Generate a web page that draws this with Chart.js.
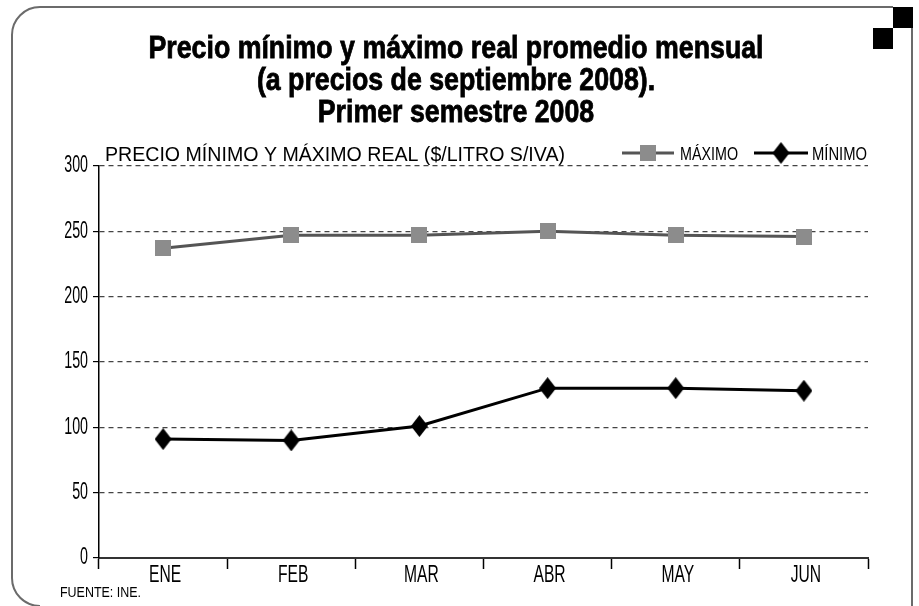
<!DOCTYPE html>
<html>
<head>
<meta charset="utf-8">
<script src="https://cdn.jsdelivr.net/npm/chart.js@4"></script>
<style>
  html, body { margin: 0; padding: 0; background: #fff; }
  #wrap { width: 919px; height: 606px; position: relative; }
</style>
</head>
<body>
<div id="wrap"><canvas id="chart" width="919" height="606"></canvas></div>
<script>
const months = ['ENE', 'FEB', 'MAR', 'ABR', 'MAY', 'JUN'];
const maximo = [237, 247, 247, 250, 247, 246];
const minimo = [91, 90, 101, 130, 130, 128];
const yTicks = [0, 50, 100, 150, 200, 250, 300];
const titleLines = ['Precio mínimo y máximo real promedio mensual', '(a precios de septiembre 2008).', 'Primer semestre 2008'];
const unitLabel = 'PRECIO MÍNIMO Y MÁXIMO REAL ($/LITRO S/IVA)';
const sourceLabel = 'FUENTE: INE.';

const FONT = "'Liberation Sans', Arial, sans-serif";

// draw text squeezed horizontally (the original uses a condensed face)
function narrowText(ctx, text, x, y, size, opts) {
    opts = opts || {};
    ctx.save();
    ctx.font = (opts.bold ? 'bold ' : '') + size + 'px ' + FONT;
    ctx.textBaseline = opts.baseline || 'alphabetic';
    ctx.fillStyle = opts.color || '#000';
    let sx = opts.sx || 0.7;
    if (opts.width) sx = opts.width / ctx.measureText(text).width;
    const w = ctx.measureText(text).width * sx;
    let left = x;
    if (opts.align === 'center') left = x - w / 2;
    if (opts.align === 'right') left = x - w;
    ctx.translate(left, y);
    ctx.scale(sx, 1);
    ctx.fillText(text, 0, 0);
    if (opts.heavy) {
        ctx.lineWidth = 0.8;
        ctx.strokeStyle = ctx.fillStyle;
        ctx.strokeText(text, 0, 0);
    }
    ctx.restore();
}

function makeMarker(w, h, color, shape) {
    const c = document.createElement('canvas');
    c.width = w; c.height = h;
    const g = c.getContext('2d');
    g.fillStyle = color;
    if (shape === 'diamond') {
        g.beginPath();
        g.moveTo(w / 2, 0);
        g.lineTo(w, h / 2);
        g.lineTo(w / 2, h);
        g.lineTo(0, h / 2);
        g.closePath();
        g.fill();
    } else {
        g.fillRect(0, 0, w, h);
    }
    return c;
}
const squareMark = makeMarker(16, 16, '#8c8c8c', 'square');
const diamondMark = makeMarker(17, 22, '#000', 'diamond');

const framePlugin = {
    id: 'frame',
    beforeDraw(chart) {
        const ctx = chart.ctx;
        ctx.save();
        ctx.strokeStyle = '#6b6b6b';
        ctx.lineWidth = 2;
        ctx.beginPath();
        ctx.moveTo(893, 7);
        ctx.lineTo(40, 7);
        ctx.arcTo(12, 7, 12, 35, 28);
        ctx.lineTo(12, 578);
        ctx.arcTo(12, 606, 40, 606, 28);
        ctx.stroke();
        ctx.beginPath();
        ctx.moveTo(912, 28);
        ctx.lineTo(912, 606);
        ctx.stroke();
        ctx.fillStyle = '#000';
        ctx.fillRect(893, 7, 20, 21);
        ctx.fillRect(873, 28, 20, 21);
        ctx.restore();
    },
    afterDraw(chart) {
        const ctx = chart.ctx;
        const area = chart.chartArea;
        const xs = chart.scales.x;
        const ys = chart.scales.y;

        // title
        ctx.save();
        ctx.font = 'bold 31px ' + FONT;
        const sxTitle = 615 / ctx.measureText(titleLines[0]).width;
        ctx.restore();
        titleLines.forEach((line, i) => {
            narrowText(ctx, line, 456, 58 + i * 32, 31, { bold: true, heavy: true, align: 'center', sx: sxTitle });
        });

        // y tick labels
        ys.ticks.forEach((t, i) => {
            narrowText(ctx, String(t.value), area.left - 11, ys.getPixelForTick(i), 23, { align: 'right', baseline: 'middle', sx: 0.62 });
        });
        // x tick labels
        xs.ticks.forEach((t, i) => {
            narrowText(ctx, chart.data.labels[i], xs.getPixelForTick(i) + 2, area.bottom + 18, 23, { align: 'center', baseline: 'middle', sx: 0.68 });
        });

        narrowText(ctx, unitLabel, area.left + 6, 161, 21, { width: 460 });
        narrowText(ctx, sourceLabel, 60, 597, 14.5, { width: 81 });

        // legend: line with marker in the middle
        const ds = chart.data.datasets;
        const items = [
            { x: 622, len: 52, ds: ds[0], tx: 680, w: 58 },
            { x: 754, len: 54, ds: ds[1], tx: 812, w: 55 }
        ];
        const y = 153;
        items.forEach(it => {
            ctx.save();
            ctx.strokeStyle = it.ds.borderColor;
            ctx.lineWidth = 3;
            ctx.beginPath();
            ctx.moveTo(it.x, y);
            ctx.lineTo(it.x + it.len, y);
            ctx.stroke();
            const img = it.ds.pointStyle;
            const cx = it.x + it.len / 2;
            ctx.drawImage(img, cx - img.width / 2, y - img.height / 2);
            ctx.restore();
            narrowText(ctx, it.ds.label, it.tx, y + 7, 18, { width: it.w });
        });
    }
};

new Chart(document.getElementById('chart'), {
    type: 'line',
    data: {
        labels: months,
        datasets: [{
            label: 'MÁXIMO',
            data: maximo,
            borderColor: '#555555',
            borderWidth: 3,
            pointStyle: squareMark,
            tension: 0
        }, {
            label: 'MÍNIMO',
            data: minimo,
            borderColor: '#000',
            borderWidth: 3,
            pointStyle: diamondMark,
            tension: 0
        }]
    },
    options: {
        responsive: false,
        animation: false,
        devicePixelRatio: 1,
        layout: { padding: { top: 166, left: 0, right: 51, bottom: 0 } },
        plugins: {
            legend: { display: false },
            tooltip: { enabled: false },
            title: { display: false }
        },
        scales: {
            x: {
                offset: true,
                afterFit: s => { s.height = 48; },
                grid: {
                    offset: true,
                    drawOnChartArea: false,
                    drawTicks: true,
                    tickLength: 11,
                    tickColor: '#000',
                    tickWidth: 1.5
                },
                border: { color: '#333', width: 2 },
                ticks: { display: false }
            },
            y: {
                min: 0,
                max: 300,
                afterBuildTicks: s => { s.ticks = yTicks.map(v => ({ value: v })); },
                afterFit: s => { s.width = 99; },
                ticks: { display: false },
                grid: {
                    color: ctx => ctx.tick && ctx.tick.value === 0 ? 'rgba(0,0,0,0)' : '#444',
                    lineWidth: 1.2,
                    tickColor: '#000',
                    tickLength: 6,
                    tickBorderDash: []
                },
                border: { color: '#000', width: 1.5, dash: [5, 4] }
            }
        }
    },
    plugins: [framePlugin]
});
</script>
</body>
</html>
